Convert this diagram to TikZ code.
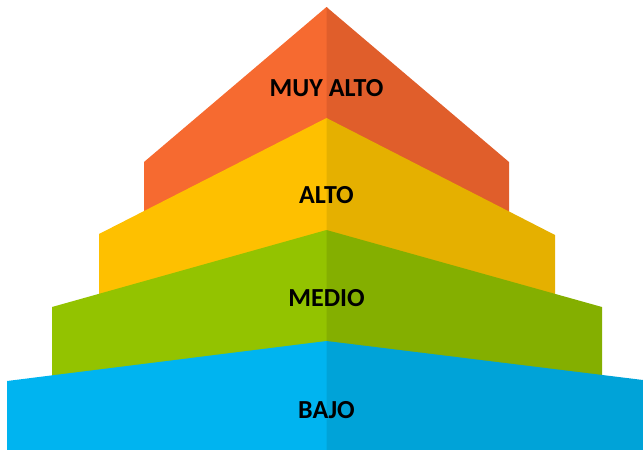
\documentclass[tikz,border=0pt]{standalone}
\usepackage{fontspec}
\setmainfont{Carlito}
\usepackage{pgf}
\usetikzlibrary{math}

\definecolor{orangeL}{RGB}{246,106,48}
\definecolor{orangeR}{RGB}{224,94,43}
\definecolor{yellowL}{RGB}{254,192,0}
\definecolor{yellowR}{RGB}{229,176,0}
\definecolor{greenL}{RGB}{147,195,0}
\definecolor{greenR}{RGB}{132,175,0}
\definecolor{blueL}{RGB}{0,180,240}
\definecolor{blueR}{RGB}{0,163,216}

\tikzset{label/.style={font=\bfseries\fontsize{26}{31}\selectfont, text=black, inner sep=0pt}}

\begin{document}
\begin{tikzpicture}[x=1pt,y=-1pt]
      \tikzmath{\c = 326.5; \cc = \c + 1;}
      \useasboundingbox (0,0) rectangle (643,450);
      % muy alto
      \fill[orangeL] (\c,7) -- (144,162) -- (144,260) -- (\cc,260) -- (\cc,8) -- cycle;
      \fill[orangeR] (\c,7) -- (509,162) -- (509,260) -- (\c,260) -- cycle;
      % alto
      \fill[yellowL] (\c,118) -- (99,234) -- (99,340) -- (\cc,340) -- (\cc,119) -- cycle;
      \fill[yellowR] (\c,118) -- (555,235) -- (555,340) -- (\c,340) -- cycle;
      % medio
      \fill[greenL] (\c,230) -- (52,307) -- (52,420) -- (\cc,420) -- (\cc,231) -- cycle;
      \fill[greenR] (\c,230) -- (602,307) -- (602,420) -- (\c,420) -- cycle;
      % bajo
      \fill[blueL] (\c,341) -- (7,381) -- (7,450) -- (\cc,450) -- (\cc,341) -- cycle;
      \fill[blueR] (\c,341) -- (643,380) -- (643,450) -- (\c,450) -- cycle;
      \node[label] (muyalto) at (\c,88) {MUY ALTO};
      \node[label] (alto) at (\c,195) {ALTO};
      \node[label] (medio) at (\c,298) {MEDIO};
      \node[label] (bajo) at (\c,410) {BAJO};
    \end{tikzpicture}
\end{document}
